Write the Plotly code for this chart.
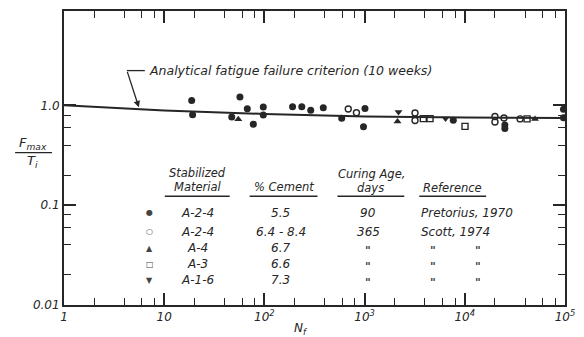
import plotly.graph_objects as go

# ---------------- data ----------------
criterion_n = [1, 10, 100, 1000, 10000, 100000]
criterion_ratio = [1.0, 0.89, 0.82, 0.775, 0.755, 0.745]

a24_pretorius_n = [18.8, 19.2, 57, 67.5, 47.2, 77.5, 97.5, 97.5, 191, 236, 290, 387,
                   591, 1009, 975, 7680, 25100, 25100, 96600, 96600]
a24_pretorius_r = [1.12, 0.804, 1.21, 0.925, 0.765, 0.647, 0.962, 0.80, 0.968, 0.968, 0.892, 0.946,
                   0.743, 0.929, 0.611, 0.709, 0.637, 0.587, 0.912, 0.753]

a24_scott_n = [687, 829, 3185, 3185, 20000, 20000, 24600, 35600]
a24_scott_r = [0.919, 0.844, 0.838, 0.706, 0.774, 0.682, 0.748, 0.731]

a4_n = [54.9, 2130, 50200]
a4_r = [0.726, 0.69, 0.731]

a3_n = [3855, 4500, 10050, 41800]
a3_r = [0.736, 0.736, 0.615, 0.731]

a16_n = [2180, 6420]
a16_r = [0.857, 0.739]

x_tickvals = [1, 10, 100, 1000, 10000, 100000]
x_ticktext = ["1", "10", "10<sup>2</sup>", "10<sup>3</sup>", "10<sup>4</sup>", "10<sup>5</sup>"]
y_tickvals = [0.01, 0.1, 1.0]
y_ticktext = ["0.01", "0.1", "1.0"]

table_symbols = ["●", "○", "▲", "□", "▼"]
table_material = ["A-2-4", "A-2-4", "A-4", "A-3", "A-1-6"]
table_cement = ["5.5", "6.4 - 8.4", "6.7", "6.6", "7.3"]
table_curing = ["90", "365", "\"", "\"", "\""]
table_reference = ["Pretorius, 1970", "Scott, 1974"]

INK = "#262626"
FONT = "DejaVu Sans"

# ---------------- layout helpers (pixel -> paper) ----------------
L, R, T, B = 64, 566, 9, 305
def xp(x):
    return (x - L) / (R - L)
def yp(y):
    return (B - y) / (B - T)

fig = go.Figure()

fig.add_trace(go.Scatter(x=criterion_n, y=criterion_ratio, mode="lines",
                         line=dict(color=INK, width=2), hoverinfo="skip"))

fig.add_trace(go.Scatter(x=a24_pretorius_n, y=a24_pretorius_r, mode="markers",
                         marker=dict(symbol="circle", size=7, color=INK)))
fig.add_trace(go.Scatter(x=a24_scott_n, y=a24_scott_r, mode="markers",
                         marker=dict(symbol="circle-open", size=6, color=INK, line=dict(width=1.4))))
fig.add_trace(go.Scatter(x=a4_n, y=a4_r, mode="markers",
                         marker=dict(symbol="triangle-up", size=7, color=INK)))
fig.add_trace(go.Scatter(x=a3_n, y=a3_r, mode="markers",
                         marker=dict(symbol="square-open", size=6, color=INK, line=dict(width=1.4))))
fig.add_trace(go.Scatter(x=a16_n, y=a16_r, mode="markers",
                         marker=dict(symbol="triangle-down", size=7, color=INK)))

x_minor = [m * d for d in [1, 10, 100, 1000, 10000] for m in [2, 4, 6, 8]]
y_minor = [m * d for d in [0.01, 0.1] for m in [2, 4, 6, 8]]

axis_common = dict(showline=True, linewidth=2, linecolor=INK, mirror="allticks",
                   ticks="inside", tickcolor=INK, tickwidth=1.5, showgrid=False,
                   zeroline=False, tickfont=dict(family=FONT, size=12, color=INK, style="italic"))

fig.update_xaxes(type="log", range=[0, 5], tickmode="array", tickvals=x_tickvals,
                 ticktext=x_ticktext, ticklen=12,
                 minor=dict(tickvals=x_minor, ticks="inside", ticklen=7, tickwidth=1.3,
                            tickcolor=INK, showgrid=False),
                 **axis_common)
fig.update_yaxes(type="log", range=[-2, 0.945], tickmode="array", tickvals=y_tickvals,
                 ticktext=y_ticktext, ticklen=12,
                 minor=dict(tickvals=y_minor, ticks="inside", ticklen=7, tickwidth=1.3,
                            tickcolor=INK, showgrid=False),
                 **axis_common)

ann = []
shapes = []

def text(x, y, s, size=12, anchor="center", color=INK, weight="normal"):
    ann.append(dict(xref="paper", yref="paper", x=xp(x), y=yp(y), text=s, showarrow=False,
                    xanchor=anchor, yanchor="middle",
                    font=dict(family=FONT, size=size, color=color, style="italic",
                              weight=weight)))

def hline(x0, x1, y, w=1.5):
    shapes.append(dict(type="line", xref="paper", yref="paper", x0=xp(x0), x1=xp(x1),
                       y0=yp(y), y1=yp(y), line=dict(color=INK, width=w)))

# criterion label and leader
text(147, 69, "Analytical fatigue failure criterion (10 weeks)", size=12.5, anchor="left")
hline(127, 145, 69, 1.3)
ann.append(dict(xref="paper", yref="paper", x=xp(139), y=yp(106), ax=-12, ay=-37,
                axref="pixel", ayref="pixel", text="", showarrow=True, arrowhead=2,
                arrowsize=1, arrowwidth=1.3, arrowcolor=INK))

# y-axis title as fraction
text(33, 142, "F<sub>max</sub>", size=13)
hline(15, 52, 151.5, 1.3)
text(32, 161, "T<sub>i</sub>", size=13)
# x-axis title
text(301, 329, "N<sub>f</sub>", size=12)

# table headers
text(198, 172, "Stabilized", size=11.5)
text(198, 186, "Material", size=11.5)
text(284, 186, "% Cement", size=11.5)
text(372, 173, "Curing Age,", size=11.5)
text(371, 187, "days", size=11.5)
text(453, 187, "Reference", size=11.5)
hline(165, 230, 195.5)
hline(250, 318, 195.5)
hline(338, 405, 195.5)
hline(420, 487, 195.5)

DITTO = "#3a3a3a"
rows_y = [212, 231, 248, 264, 280]
for i, yy in enumerate(rows_y):
    ann.append(dict(xref="paper", yref="paper", x=xp(150), y=yp(yy), text=table_symbols[i],
                    showarrow=False, xanchor="center", yanchor="middle",
                    font=dict(family="DejaVu Sans", size=8, color="#444")))
    text(198, yy, table_material[i])
    text(281, yy, table_cement[i])
    if i < 2:
        text(369, yy, table_curing[i])
        text(420, yy, table_reference[i], anchor="left")
    else:
        text(369, yy + 2, table_curing[i], size=11, color=DITTO, weight="bold")
        text(434, yy + 2, "\"", size=11, color=DITTO, weight="bold")
        text(479, yy + 2, "\"", size=11, color=DITTO, weight="bold")

fig.update_layout(width=584, height=337, margin=dict(l=L, r=584 - R, t=T, b=337 - B),
                  plot_bgcolor="white", paper_bgcolor="white", showlegend=False,
                  annotations=ann, shapes=shapes)

fig.write_html("out.html")
